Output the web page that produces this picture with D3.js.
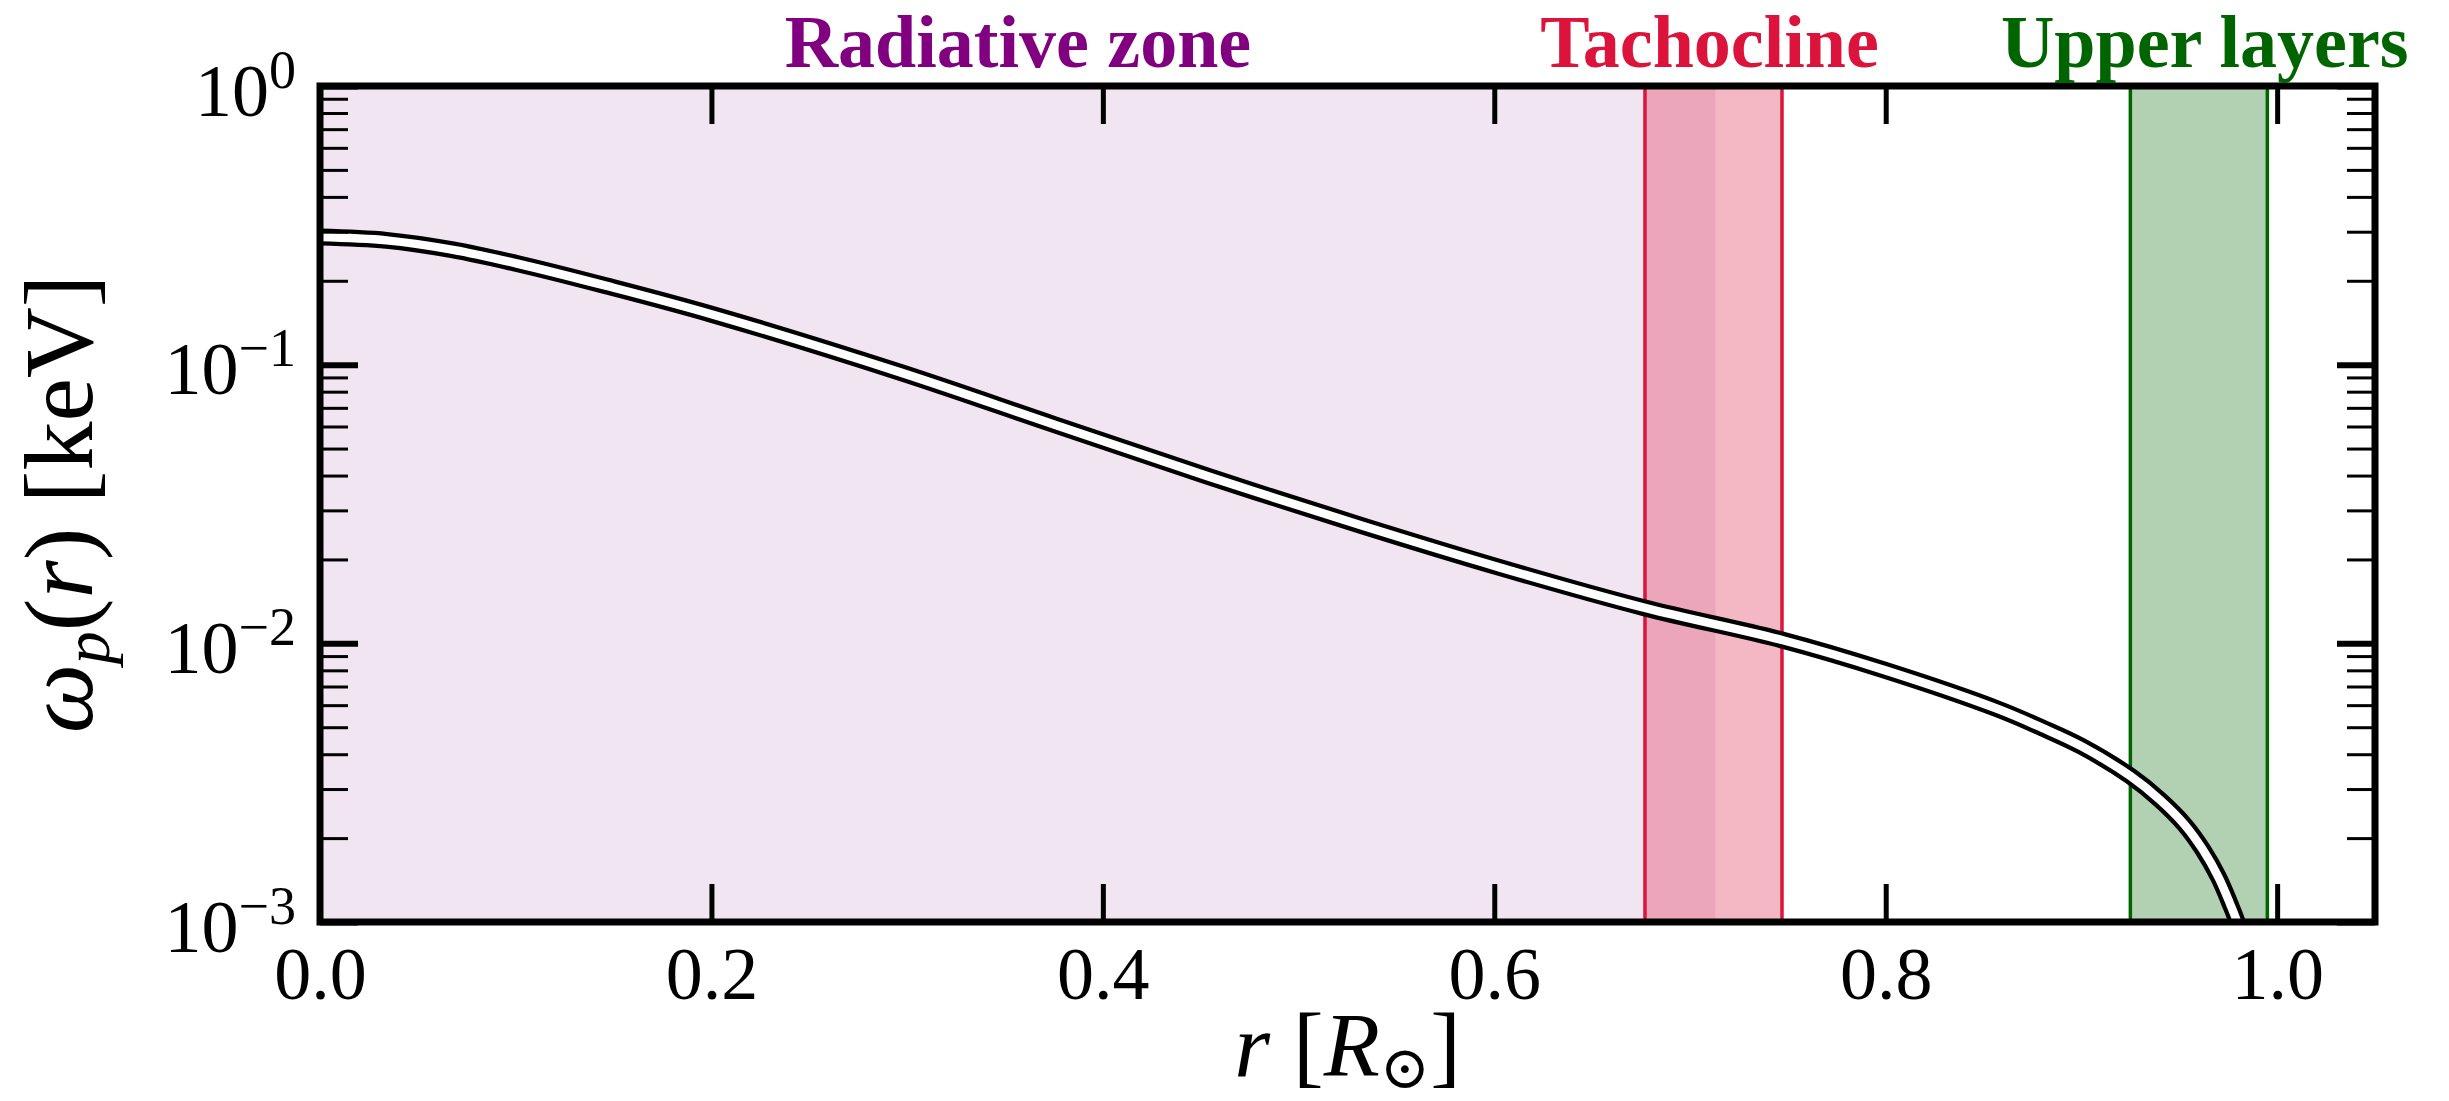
<!DOCTYPE html>
<html>
<head>
<meta charset="utf-8">
<script src="https://cdn.jsdelivr.net/npm/d3@7"></script>
<style>
  html, body { margin: 0; padding: 0; background: #ffffff; }
  svg { display: block; }
</style>
</head>
<body>
<svg id="chart" width="2449" height="1101"></svg>
<script>
// ---------------- data ----------------
const radius = [0, 0.034, 0.068, 0.100, 0.146, 0.200, 0.2965, 0.375, 0.453, 0.531, 0.603,
                0.677, 0.747, 0.799, 0.857, 0.880, 0.900, 0.925, 0.940, 0.9526, 0.962, 0.970,
                0.976, 0.980, 0.985, 0.990];
const omegaP = [0.2871, 0.2793, 0.2582, 0.2312, 0.1920, 0.1517, 0.0938, 0.0610, 0.0399,
                0.02663, 0.0187, 0.0134, 0.01028, 0.00803, 0.00582, 0.00497, 0.00427, 0.00334,
                0.00275, 0.00224, 0.00182, 0.00145, 0.00116, 0.00098, 0.00073, 0.00050];

const zoneNames = ["Radiative zone", "Tachocline", "Upper layers"];
const zoneStart = [0.0, 0.677, 0.925];
const zoneEnd   = [0.713, 0.747, 0.995];
const zoneLabelAt = [0.3566, 0.710, 0.963];

const xTicks = [0.0, 0.2, 0.4, 0.6, 0.8, 1.0];
const xTickLabels = ["0.0", "0.2", "0.4", "0.6", "0.8", "1.0"];
const yMajor = [1e-3, 1e-2, 1e-1, 1e0];
const yMajorExp = ["−3", "−2", "−1", "0"];
const yMinor = [2e-3,3e-3,4e-3,5e-3,6e-3,7e-3,8e-3,9e-3,
                2e-2,3e-2,4e-2,5e-2,6e-2,7e-2,8e-2,9e-2,
                2e-1,3e-1,4e-1,5e-1,6e-1,7e-1,8e-1,9e-1];

// ---------------- layout ----------------
const L = 320, R = 2375, T = 86, B = 922;
const svg = d3.select("#chart");
const x = d3.scaleLinear().domain([0, 1.05]).range([L, R]);
const y = d3.scaleLog().domain([1e-3, 1]).range([B, T]);

const zoneFill = ["rgba(128,0,128,0.1)", "rgba(220,20,60,0.3)", "rgba(0,100,0,0.3)"];
const zoneEdge = [null, "#dc143c", "#006400"];
const zoneText = ["#800080", "#dc143c", "#006400"];
const serif = "'Liberation Serif', 'DejaVu Serif', serif";

// clip
svg.append("defs").append("clipPath").attr("id", "plotclip")
  .append("rect").attr("x", L).attr("y", T).attr("width", R - L).attr("height", B - T);

const plot = svg.append("g").attr("clip-path", "url(#plotclip)");

// zones
zoneNames.forEach((n, i) => {
  plot.append("rect")
    .attr("x", x(zoneStart[i])).attr("y", T)
    .attr("width", x(zoneEnd[i]) - x(zoneStart[i])).attr("height", B - T)
    .attr("fill", zoneFill[i]);
  if (zoneEdge[i]) {
    [zoneStart[i], zoneEnd[i]].forEach(v => {
      plot.append("line")
        .attr("x1", x(v)).attr("x2", x(v)).attr("y1", T).attr("y2", B)
        .attr("stroke", zoneEdge[i]).attr("stroke-width", 3.5);
    });
  }
});

// curve
const pts = radius.map((r, i) => [r, omegaP[i]]);
const line = d3.line().x(d => x(d[0])).y(d => y(d[1])).curve(d3.curveCatmullRom.alpha(0.5));
plot.append("path").datum(pts).attr("d", line)
  .attr("fill", "none").attr("stroke", "#000").attr("stroke-width", 17);
plot.append("path").datum(pts).attr("d", line)
  .attr("fill", "none").attr("stroke", "#fff").attr("stroke-width", 8.5);

// ---------------- axes ----------------
function styleAxis(g, w) {
  g.select(".domain").remove();
  g.selectAll(".tick line").attr("stroke", "#000").attr("stroke-width", w);
}
// bottom
const gB = svg.append("g").attr("transform", `translate(0,${B})`)
  .call(d3.axisBottom(x).tickValues(xTicks).tickSize(-38).tickPadding(24)
        .tickFormat((d, i) => xTickLabels[i]));
styleAxis(gB, 5);
gB.selectAll("text").attr("font-family", serif).attr("font-size", 74).attr("fill", "#000");
// top
const gT = svg.append("g").attr("transform", `translate(0,${T})`)
  .call(d3.axisTop(x).tickValues(xTicks).tickSize(-38).tickFormat(""));
styleAxis(gT, 5);
// left
const gL = svg.append("g").attr("transform", `translate(${L},0)`)
  .call(d3.axisLeft(y).tickValues(yMajor).tickSize(-38).tickPadding(24).tickFormat(""));
styleAxis(gL, 6);
gL.selectAll(".tick text").each(function(d, i) {
  const t = d3.select(this).text(null)
    .attr("font-family", serif).attr("font-size", 74).attr("fill", "#000")
    .attr("text-anchor", "end").attr("dy", null).attr("x", -24).attr("y", 29);
  t.append("tspan").text("10");
  t.append("tspan").attr("dy", -28).attr("font-size", 54).text(yMajorExp[i]);
});
const gLm = svg.append("g").attr("transform", `translate(${L},0)`)
  .call(d3.axisLeft(y).tickValues(yMinor).tickSize(-28).tickFormat(""));
styleAxis(gLm, 3);
// right
const gR = svg.append("g").attr("transform", `translate(${R},0)`)
  .call(d3.axisRight(y).tickValues(yMajor).tickSize(-38).tickFormat(""));
styleAxis(gR, 6);
const gRm = svg.append("g").attr("transform", `translate(${R},0)`)
  .call(d3.axisRight(y).tickValues(yMinor).tickSize(-28).tickFormat(""));
styleAxis(gRm, 3);

// frame
svg.append("rect").attr("x", L).attr("y", T).attr("width", R - L).attr("height", B - T)
  .attr("fill", "none").attr("stroke", "#000").attr("stroke-width", 7);

// zone labels
zoneNames.forEach((n, i) => {
  svg.append("text").attr("x", x(zoneLabelAt[i])).attr("y", 67)
    .attr("text-anchor", "middle").attr("font-family", serif).attr("font-weight", "bold")
    .attr("font-size", 74).attr("fill", zoneText[i]).text(n);
});

// x label
const xl = svg.append("text").attr("x", (L + R) / 2).attr("y", 1076)
  .attr("text-anchor", "middle").attr("font-family", serif).attr("font-size", 92).attr("fill", "#000");
xl.append("tspan").attr("font-style", "italic").text("r");
xl.append("tspan").text(" [");
xl.append("tspan").attr("font-style", "italic").text("R");
xl.append("tspan").attr("font-size", 60).attr("dy", 12).text("⊙");
xl.append("tspan").attr("dy", -12).text("]");

// y label
const yl = svg.append("text").attr("transform", `translate(92,${(T + B) / 2}) rotate(-90)`)
  .attr("text-anchor", "middle").attr("font-family", serif).attr("font-size", 98).attr("fill", "#000");
yl.append("tspan").attr("font-style", "italic").text("ω");
yl.append("tspan").attr("font-style", "italic").attr("font-size", 66).attr("dy", 17).text("p");
yl.append("tspan").attr("dy", -17).text("(");
yl.append("tspan").attr("font-style", "italic").text("r");
yl.append("tspan").text(") [keV]");
</script>
</body>
</html>
